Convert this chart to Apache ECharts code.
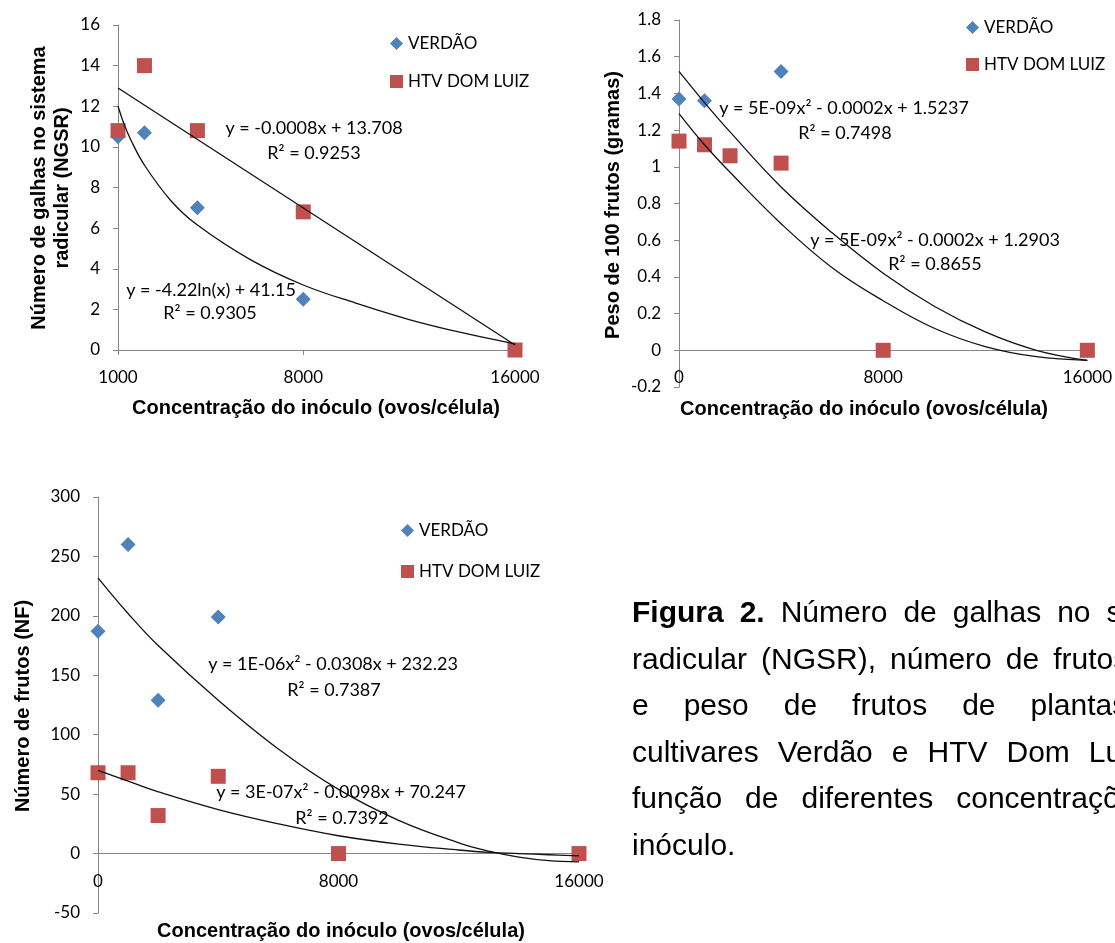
<!DOCTYPE html>
<html>
<head>
<meta charset="utf-8">
<script src="https://cdn.jsdelivr.net/npm/echarts@6/dist/echarts.min.js"></script>
<style>
  html, body { margin: 0; padding: 0; background: #fff; }
  #chart-panel { width: 1115px; height: 943px; }
</style>
</head>
<body>
<div id="chart-panel"></div>
<script>
// --- Número de galhas (NGSR) ---
var galhasX = [1000, 2000, 4000, 8000, 16000];
var galhasVerdao = [10.5, 10.7, 7.0, 2.5, 0];
var galhasHtv = [10.8, 14.0, 10.8, 6.8, 0];
// trend lines
var galhasFitVerdaoX = [1000, 1250, 1500, 2000, 3000, 4000, 6000, 8000, 10000, 12000, 14000, 16000];
var galhasFitVerdao = [12.0, 11.05, 10.3, 9.1, 7.35, 6.15, 4.45, 3.2, 2.3, 1.5, 0.85, 0.3];
var galhasFitHtvX = [1000, 16000];
var galhasFitHtv = [12.9, 0.25];

// --- Peso de 100 frutos ---
var pesoX = [0, 1000, 2000, 4000, 8000, 16000];
var pesoVerdao = [1.37, 1.36, 1.06, 1.52, 0, 0];
var pesoHtv = [1.14, 1.12, 1.06, 1.02, 0, 0];
var pesoFitX = [0, 1000, 2000, 4000, 6000, 8000, 10000, 12000, 14000, 16000];
var pesoFitVerdao = [1.52, 1.35, 1.19, 0.89, 0.64, 0.42, 0.24, 0.10, 0.0, -0.055];
var pesoFitHtv = [1.29, 1.12, 0.97, 0.69, 0.45, 0.27, 0.12, 0.02, -0.035, -0.055];

// --- Número de frutos (NF) ---
var frutosX = [0, 1000, 2000, 4000, 8000, 16000];
var frutosVerdao = [187, 260, 129, 199, 0, 0];
var frutosHtv = [68, 68, 32, 65, 0, 0];
var frutosFitX = [0, 1000, 2000, 4000, 6000, 8000, 10000, 12000, 13000, 14000, 15000, 16000];
var frutosFitVerdao = [232, 202, 175, 129, 88, 54, 28, 9, 2, -3, -6, -7];
var frutosFitHtv = [70, 61, 52, 37, 25, 15, 8, 3, 1, 0, -1, -2];

var xTicksGalhas = [1000, 8000, 16000];
var xTicksZero = [0, 8000, 16000];

var equations = [
  'y = -0.0008x + 13.708', 'R² = 0.9253',
  'y = -4.22ln(x) + 41.15', 'R² = 0.9305',
  'y = 5E-09x² - 0.0002x + 1.5237', 'R² = 0.7498',
  'y = 5E-09x² - 0.0002x + 1.2903', 'R² = 0.8655',
  'y = 1E-06x² - 0.0308x + 232.23', 'R² = 0.7387',
  'y = 3E-07x² - 0.0098x + 70.247', 'R² = 0.7392'
];

var captionLines = [
  'Figura 2. Número de galhas no sistema',
  'radicular (NGSR), número de frutos (NF)',
  'e peso de frutos de plantas das',
  'cultivares Verdão e HTV Dom Luiz em',
  'função de diferentes concentrações do',
  'inóculo.'
];

var BLUE = '#4F81BD';
var RED = '#C0504D';
var AXIS = '#868686';
var LABEL_FONT = 'Lato';
var TITLE_FONT = '"Liberation Sans", Arial, sans-serif';

function pairs (xs, ys) {
  return xs.map(function (x, i) { return [x, ys[i]]; });
}

// offset lifts the x axis from the grid bottom up to y = 0
function xAxisOf (idx, min, max, ticks, offset) {
  return {
    type: 'value', gridIndex: idx, min: min, max: max,
    position: 'bottom', offset: offset,
    axisLine: { onZero: false, lineStyle: { color: AXIS } },
    axisTick: { customValues: ticks, length: 5, lineStyle: { color: AXIS } },
    axisLabel: {
      customValues: ticks, margin: 19, color: '#000', fontFamily: LABEL_FONT, fontSize: 17,
      formatter: function (v) { return String(v); }
    },
    splitLine: { show: false }
  };
}

function yAxisOf (idx, min, max, interval) {
  return {
    type: 'value', gridIndex: idx, min: min, max: max, interval: interval,
    axisLine: { show: true, onZero: false, lineStyle: { color: AXIS } },
    axisTick: { show: true, length: 5, lineStyle: { color: AXIS } },
    axisLabel: { margin: 18, color: '#000', fontFamily: LABEL_FONT, fontSize: 17 },
    splitLine: { show: false }
  };
}

function scatterOf (idx, name, xs, ys) {
  var verdao = name === 'VERDÃO';
  return {
    type: 'scatter', name: name, xAxisIndex: idx, yAxisIndex: idx,
    symbol: verdao ? 'diamond' : 'rect',
    symbolSize: 15,
    itemStyle: { color: verdao ? BLUE : RED, opacity: 1 },
    data: pairs(xs, ys)
  };
}

function trendOf (idx, xs, ys) {
  return {
    type: 'line', name: 'trend', xAxisIndex: idx, yAxisIndex: idx,
    smooth: 0.4, symbol: 'none', silent: true,
    lineStyle: { color: '#111', width: 1.3 },
    data: pairs(xs, ys)
  };
}

function legendOf (left, top, gap) {
  return {
    orient: 'vertical', left: left, top: top, padding: 0,
    itemGap: gap, itemWidth: 13, itemHeight: 13, selectedMode: false,
    textStyle: { fontFamily: LABEL_FONT, fontSize: 17, lineHeight: 16, color: '#000' },
    data: [{ name: 'VERDÃO', icon: 'diamond' }, { name: 'HTV DOM LUIZ', icon: 'rect' }]
  };
}

function textEl (str, x, y, font, rotation) {
  return {
    type: 'text', x: x, y: y, rotation: rotation || 0, silent: true,
    style: {
      text: str, font: font, fill: '#000',
      align: 'center', verticalAlign: 'middle',
      textAlign: 'center', textVerticalAlign: 'middle'
    }
  };
}

// equation label centres
var eqPos = [
  [314, 128], [314, 153], [211, 290], [210, 313],
  [844, 108], [845, 133], [935, 240], [935, 264],
  [333, 664], [334, 690], [341, 792], [342, 818]
];

var graphics = [];
equations.forEach(function (eq, i) {
  graphics.push(textEl(eq, eqPos[i][0], eqPos[i][1], '18px Lato'));
});

var titleFont = 'bold 20px ' + TITLE_FONT;
var xTitle = 'Concentração do inóculo (ovos/célula)';
graphics.push(textEl(xTitle, 316, 408, titleFont));
graphics.push(textEl(xTitle, 864, 409, titleFont));
graphics.push(textEl(xTitle, 341, 931, titleFont));
graphics.push(textEl('Número de galhas no sistema', 39, 188, titleFont, Math.PI / 2));
graphics.push(textEl('radicular (NGSR)', 62, 188, titleFont, Math.PI / 2));
graphics.push(textEl('Peso de 100 frutos (gramas)', 613, 205, titleFont, Math.PI / 2));
graphics.push(textEl('Número de frutos (NF)', 23, 706, titleFont, Math.PI / 2));

// justified caption, laid out word by word
var ctx = document.createElement('canvas').getContext('2d');
var lineGaps = [16, 14, 35, 19, 23, 8];
captionLines.forEach(function (line, li) {
  var x = 632;
  var y = 614 + li * 46.5;
  line.split(' ').forEach(function (word, wi) {
    var bold = li === 0 && wi < 2;
    var font = (bold ? 'bold ' : '') + '30px "Liberation Sans"';
    ctx.font = font;
    graphics.push({
      type: 'text', x: x, y: y, silent: true,
      style: { text: word, font: font, fill: '#000', align: 'left', verticalAlign: 'middle', textAlign: 'left', textVerticalAlign: 'middle' }
    });
    x += ctx.measureText(word).width + lineGaps[li];
  });
});

const chart = echarts.init(document.getElementById('chart-panel'));
const option = {
  backgroundColor: '#fff',
  animation: false,
  grid: [
    { left: 118, top: 25, width: 397, height: 325 },
    { left: 679, top: 20, width: 409, height: 367 },
    { left: 98, top: 497, width: 481, height: 416 }
  ],
  xAxis: [
    xAxisOf(0, 1000, 16000, xTicksGalhas, 0),
    xAxisOf(1, 0, 16000, xTicksZero, -36.7),
    xAxisOf(2, 0, 16000, xTicksZero, -59.4)
  ],
  yAxis: [
    yAxisOf(0, 0, 16, 2),
    yAxisOf(1, -0.2, 1.8, 0.2),
    yAxisOf(2, -50, 300, 50)
  ],
  legend: [
    legendOf(390, 35, 21),
    legendOf(966, 19, 20),
    legendOf(401, 522, 24)
  ],
  series: [
    scatterOf(0, 'VERDÃO', galhasX, galhasVerdao),
    scatterOf(0, 'HTV DOM LUIZ', galhasX, galhasHtv),
    trendOf(0, galhasFitVerdaoX, galhasFitVerdao),
    trendOf(0, galhasFitHtvX, galhasFitHtv),
    scatterOf(1, 'VERDÃO', pesoX, pesoVerdao),
    scatterOf(1, 'HTV DOM LUIZ', pesoX, pesoHtv),
    trendOf(1, pesoFitX, pesoFitVerdao),
    trendOf(1, pesoFitX, pesoFitHtv),
    scatterOf(2, 'VERDÃO', frutosX, frutosVerdao),
    scatterOf(2, 'HTV DOM LUIZ', frutosX, frutosHtv),
    trendOf(2, frutosFitX, frutosFitVerdao),
    trendOf(2, frutosFitX, frutosFitHtv)
  ],
  graphic: graphics
};

chart.setOption(option);
</script>
</body>
</html>
